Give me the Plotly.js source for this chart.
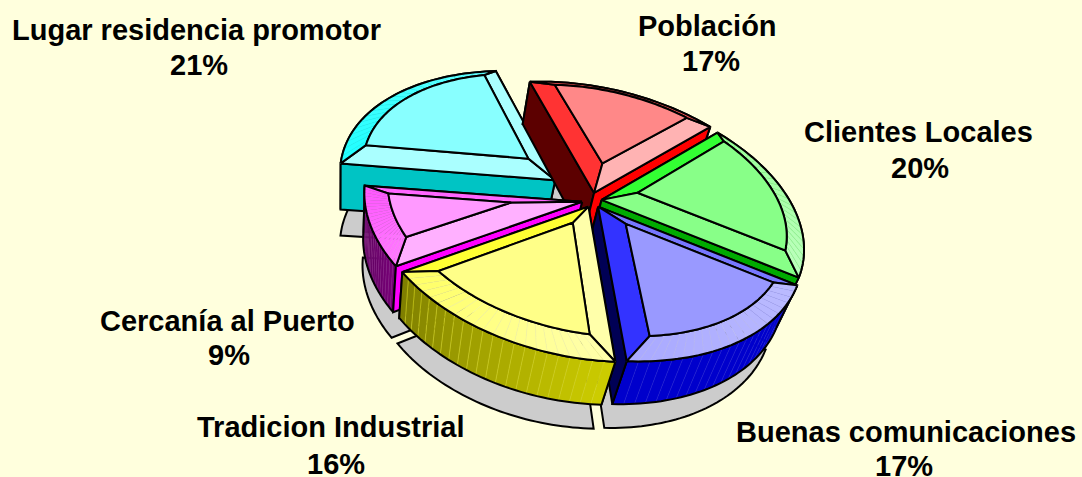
<!DOCTYPE html>
<html><head><meta charset="utf-8"><script src="https://cdn.plot.ly/plotly-3.0.1.min.js"></script>
<style>html,body{margin:0;padding:0;background:#FFFFDD}</style></head><body><div id="chart" style="width:1082px;height:477px"></div>
<script>
var categories=["Población","Clientes Locales","Buenas comunicaciones","Tradicion Industrial","Cercanía al Puerto","Lugar residencia promotor"];
var shares=[17,20,17,16,9,21];
var startAngle=-8;
var explodeX=[0.029,0.054,0.025,-0.023,-0.046,-0.144];
var explodeY=[0.020,-0.034,-0.086,-0.086,-0.049,0.118];
var labelX=[707,918,906,331,227,196];
var labelY1=[26,132,432,427,321,30];
var pctX=[711,920,904,336,229,199];
var labelY2=[61,168,466,464,355,65];
var faceColor=['#FF8888','#88FF88','#9999FF','#FFFF88','#FF99FF','#88FFFF'];
var startBand=['#FF3333','#33FF33','#7777FF','#FFFFAA','#FFB0FF','#AAFFFF'];
var endBand=['#FFB3B3','#88FF88','#3333FF','#FFFF33','#FF66FF','#AAFFFF'];
var startWall=['#5C0000','#008800','#0000AA','#AAAA00','#FF00FF','#00C4C4'];
var endWall=['#FF0000','#00AA00','#000055','#888800','#660066','#00C4C4'];
var startVisible=[true,false,false,false,true,true];
var endVisible=[true,true,true,false,false,false];
var wallFrom=['#AA0000','#00AA00','#0000CC','#CCCC00','#770077','#00AAAA'];
var wallTo=['#AA0000','#00AA00','#0000CC','#7F7F00','#440044','#00AAAA'];
var rimFrom=['#FF5555','#99FF99','#BBBBFF','#FFFFAA','#FF77FF','#22FFFF'];
var rimTo=['#FF5555','#BBFFBB','#AAAAFF','#FFFF66','#FF55FF','#66FFFF'];
var M=[238.50,41.65,-14.91,589.15, 13.71,-99.47,-53.62,195.46, 0.06406,0.14740,-0.04408];
var bevel=0.101, faceZ=0.156, shadowZ=-1.603, LW=2, SEG=22;

var bounds=[startAngle];shares.forEach(function(v,i){bounds.push(bounds[i]+v*3.6)});
function rad(t){return t*Math.PI/180}
function proj(x,y,z){var w=M[8]*x+M[9]*y+M[10]*z+1;return[(M[0]*x+M[1]*y+M[2]*z+M[3])/w,(M[4]*x+M[5]*y+M[6]*z+M[7])/w]}
function rimPt(i,t,r,z){return proj(explodeX[i]+r*Math.sin(rad(t)),explodeY[i]+r*Math.cos(rad(t)),z)}
function apexPt(i,z){return proj(explodeX[i],explodeY[i],z)}
function arc(i,a,b,r,z,n){var o=[];for(var k=0;k<=n;k++)o.push(rimPt(i,a+(b-a)*k/n,r,z));return o}
function hex(c){return[parseInt(c.substr(1,2),16),parseInt(c.substr(3,2),16),parseInt(c.substr(5,2),16)]}
function mix(a,b,t){var A=hex(a),B=hex(b);return'rgb('+[0,1,2].map(function(k){return Math.round(A[k]+(B[k]-A[k])*t)}).join(',')+')'}
var traces=[];
function poly(pts,fill,lc,lw){var xs=pts.map(function(q){return q[0]}),ys=pts.map(function(q){return q[1]});xs.push(xs[0]);ys.push(ys[0]);
 traces.push({type:'scatter',mode:'lines',x:xs,y:ys,fill:fill?'toself':'none',fillcolor:fill||undefined,line:{color:lc||'#000000',width:lw===undefined?LW:lw,simplify:false},hoverinfo:'skip',showlegend:false})}
shares.forEach(function(v,i){
 var a=bounds[i],b=bounds[i+1];
 poly([apexPt(i,shadowZ)].concat(arc(i,a,b,1,shadowZ,SEG*2)),'#CCCCCC');
});
[5,0,1,2,4,3].forEach(function(i){
 var a=bounds[i],b=bounds[i+1],half=(b-a)/2,mid=a+half;
 function startW(){poly([apexPt(i,0),rimPt(i,a,1,0),rimPt(i,a,1,-1),apexPt(i,-1)],startWall[i])}
 function endW(){poly([apexPt(i,0),rimPt(i,b,1,0),rimPt(i,b,1,-1),apexPt(i,-1)],endWall[i])}
 if(!startVisible[i])startW();
 if(!endVisible[i])endW();
 for(var k=0;k<SEG;k++){var t0=a+(b-a)*k/SEG,t1=a+(b-a)*(k+1)/SEG,c=mix(wallFrom[i],wallTo[i],k/(SEG-1));
  poly([rimPt(i,t0,1,0),rimPt(i,t1,1,0),rimPt(i,t1,1,-1),rimPt(i,t0,1,-1)],c,mix(wallFrom[i],'#FFFFFF',0.12),0.5)}
 poly(arc(i,a,b,1,0,SEG*2).concat(arc(i,b,a,1,-1,SEG*2)),null);
 if(startVisible[i])startW();
 if(endVisible[i])endW();
 var r=1-bevel,d=Math.asin(bevel/r)*180/Math.PI,q=bevel/Math.sin(rad(half));
 var ia=proj(explodeX[i]+q*Math.sin(rad(mid)),explodeY[i]+q*Math.cos(rad(mid)),faceZ);
 var a2=a+d,b2=b-d;
 poly([apexPt(i,0),rimPt(i,a,1,0),rimPt(i,a2,r,faceZ),ia],startBand[i]);
 poly([apexPt(i,0),rimPt(i,b,1,0),rimPt(i,b2,r,faceZ),ia],endBand[i]);
 for(k=0;k<SEG;k++){var u0=k/SEG,u1=(k+1)/SEG,rc=mix(rimFrom[i],rimTo[i],k/(SEG-1));
  poly([rimPt(i,a+(b-a)*u0,1,0),rimPt(i,a+(b-a)*u1,1,0),rimPt(i,a2+(b2-a2)*u1,r,faceZ),rimPt(i,a2+(b2-a2)*u0,r,faceZ)],rc,mix(rimFrom[i],'#888888',0.12),0.4)}
 poly(arc(i,a,b,1,0,SEG*2).concat(arc(i,b2,a2,r,faceZ,SEG*2)),null);
 poly([ia].concat(arc(i,a2,b2,r,faceZ,SEG*2)),faceColor[i]);
});
var ann=[];
function lab(x,y,t){ann.push({x:x,y:y,xref:'x',yref:'y',text:t,showarrow:false,xanchor:'center',yanchor:'middle',font:{family:'"Liberation Sans",Arial,sans-serif',size:29,color:'#000000'}})}
categories.forEach(function(c,i){lab(labelX[i],labelY1[i],'<b>'+c+'</b>');lab(pctX[i],labelY2[i],'<b>'+shares[i]+'%</b>')});
Plotly.newPlot('chart',traces,{width:1082,height:477,margin:{l:0,r:0,t:0,b:0},paper_bgcolor:'#FFFFDD',plot_bgcolor:'#FFFFDD',showlegend:false,
 xaxis:{range:[0,1082],visible:false,fixedrange:true},yaxis:{range:[477,0],visible:false,fixedrange:true},annotations:ann},{displayModeBar:false,staticPlot:true});
</script></body></html>
